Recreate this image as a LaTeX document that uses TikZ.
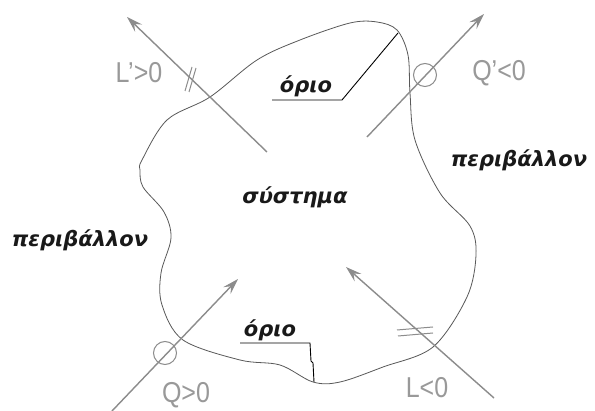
\documentclass[tikz,border=0pt]{standalone}
\usepackage{fontspec}
\setmainfont{DejaVu Sans}
\newfontfamily\handfont{Liberation Sans}
\usetikzlibrary{arrows.meta}
\begin{document}
\begin{tikzpicture}[x=1pt,y=-1pt,
  bnd/.style={draw=black!65, line width=0.8pt},
  flow/.style={draw=black!45, line width=1.4pt, -{Stealth[length=16pt,width=10pt,inset=6pt]}},
  lbl/.style={font=\bfseries\itshape\fontsize{21}{24}\selectfont, text=black!90, inner sep=0pt},
  hand/.style={font=\handfont\fontsize{25}{27}\selectfont, text=black!40, inner sep=0pt, yscale=1.15},
  ring/.style={circle, draw=black!45, line width=1pt, minimum size=23pt, inner sep=0pt},
  tickmark/.style={draw=black!45, line width=1pt},
  leader/.style={draw=black, line width=0.9pt}]
\useasboundingbox (0,0) rectangle (595,411);
\fill[white] (0,0) rectangle (595,411);
% boundary of the system
\draw[bnd] plot[smooth cycle, tension=0.55] coordinates {
  (142,160) (167,120) (210,97) (257,60) (300,40) (350,23) (377,22) (397,30)
  (408,55) (410,93) (415,140) (440,193) (470,226) (476,255) (467,297) (433,347)
  (383,367) (340,382) (313,382) (280,365) (240,360) (183,340) (162,305)
  (161,273) (171,238) (164,212) (143,187) (140,170)};
% texts
\node[lbl] (sys) at (295,197) {σύστημα};
\node[lbl] (envL) at (80,240) {περιβάλλον};
\node[lbl] (envR) at (519,160) {περιβάλλον};
\node[lbl] (o1) at (306,86) {όριο};
\node[lbl] (o2) at (270,330) {όριο};
% leaders
\coordinate (b1) at (398,33);
\coordinate (b2) at (314,382);
\coordinate (u1a) at (272,100);
\coordinate (u1b) at (342,100);
\coordinate (u2a) at (240,343);
\coordinate (u2b) at (310,343);
\draw[leader] (u1a) -- (u1b) -- (b1);
\draw[leader] (u2a) -- (u2b) -- (311,361) -- (313,363) -- (b2);
% flows
\coordinate (a1s) at (267,152); \coordinate (a1e) at (127,17);
\coordinate (a2s) at (367,137); \coordinate (a2e) at (484,14);
\coordinate (a3s) at (112,411); \coordinate (a3e) at (238,279);
\coordinate (a4s) at (494,398); \coordinate (a4e) at (346,267);
\draw[flow] (a1s) -- (a1e);
\draw[flow] (a2s) -- (a2e);
\draw[flow] (a3s) -- (a3e);
\draw[flow] (a4s) -- (a4e);
% marks on flows
\node[ring] (r1) at (425,75) {};
\node[ring] (r2) at (165,353) {};
\draw[tickmark] (185,91) -- (192,67);
\draw[tickmark] (189,92) -- (196,68);
\draw[tickmark] (397,330) -- (433,327);
\draw[tickmark] (398,336) -- (433,333);
% handwritten labels
\node[hand] (lp) at (139,73) {L’>0};
\node[hand] (qp) at (499,73) {Q’<0};
\node[hand] (q) at (186,395) {Q>0};
\node[hand] (l) at (427,388) {L<0};
\end{tikzpicture}
\end{document}
